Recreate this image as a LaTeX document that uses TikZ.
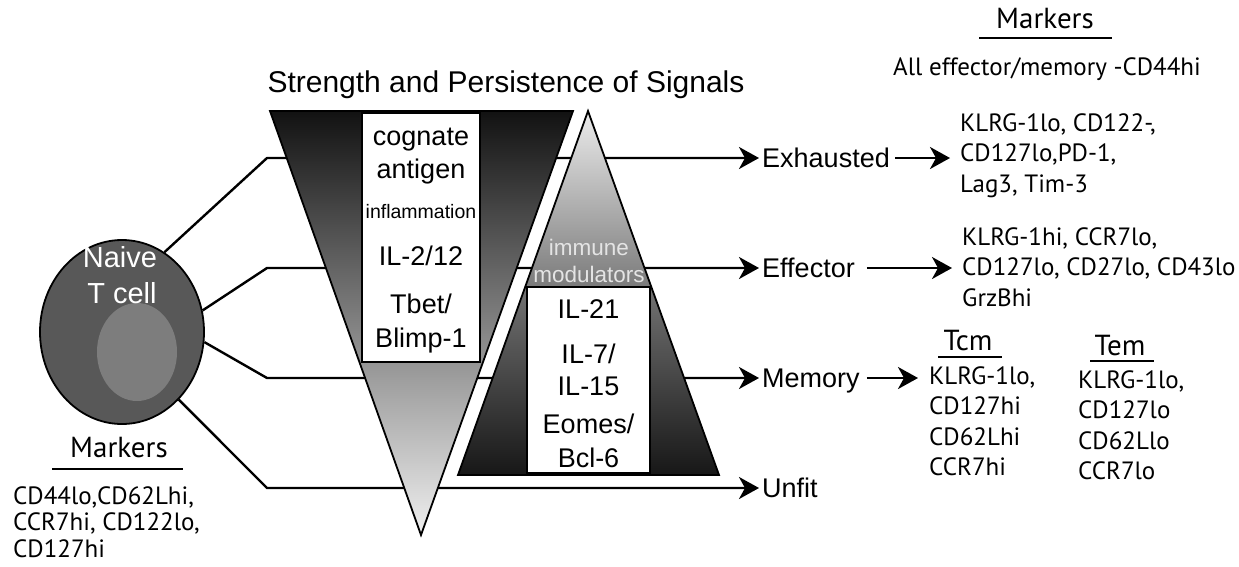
\documentclass[tikz,border=0pt]{standalone}
\usepackage{fontspec}
\setmainfont{Liberation Sans}
\newfontfamily\mkfont{PT Sans}
\usetikzlibrary{arrows.meta,shapes.geometric,calc}
\definecolor{cellgray}{HTML}{585858}
\definecolor{nucgray}{HTML}{7D7D7D}
\definecolor{modtext}{HTML}{E4E4E4}
\begin{document}
\begin{tikzpicture}[x=1pt,y=-1pt,
  conn/.style={line width=2.4pt, line join=round},
  arr/.style={conn,-{Stealth[length=20pt,width=22pt,inset=6pt]}},
  outl/.style={line width=1.8pt, line join=miter},
  uline/.style={line width=2pt},
  lab/.style={font=\fontsize{27}{30}\selectfont, inner sep=0pt, anchor=base west},
  boxtxt/.style={font=\fontsize{27}{30}\selectfont, inner sep=0pt, anchor=base},
  mk/.style={font=\mkfont\fontsize{25}{30.5}\selectfont, inner sep=0pt, anchor=base west, align=left},
  mkhead/.style={font=\mkfont\fontsize{29}{32}\selectfont, inner sep=0pt, anchor=base},
]
\useasboundingbox (0,0) rectangle (1239,566);

% ---- naive T cell ----
\node[ellipse, draw, outl, fill=cellgray, minimum width=164pt, minimum height=184pt, inner sep=0pt] (naive) at (122,332) {};
\node[ellipse, fill=nucgray, minimum width=80pt, minimum height=98pt, inner sep=0pt] (nucleus) at (137,352) {};
\node[boxtxt, white, font=\fontsize{29}{32}\selectfont] (naiveA) at (120,267) {Naive};
\node[boxtxt, white, font=\fontsize{29}{32}\selectfont] (naiveB) at (122,303) {T cell};

% ---- row corners ----
\coordinate (c1) at (267,158);
\coordinate (c2) at (267,268);
\coordinate (c3) at (267,378);
\coordinate (c4) at (267,488);

% ---- fate labels ----
\node[lab] (exh) at (762,167) {Exhausted};
\node[lab] (eff) at (762,277) {Effector};
\node[lab] (mem) at (762,387) {Memory};
\node[lab] (unf) at (762,497) {Unfit};

% ---- connectors (behind the triangles) ----
\draw[arr] (naive.62) -- (c1) -- ([xshift=-3pt]exh.west |- c1);
\draw[arr] (naive.15) -- (c2) -- ([xshift=-3pt]eff.west |- c2);
\draw[arr] (naive.-7) -- (c3) -- ([xshift=-3pt]mem.west |- c3);
\draw[arr] (naive.-50) -- (c4) -- ([xshift=-3pt]unf.west |- c4);

% ---- inverted triangle: signal strength ----
\coordinate (vL) at (270,111);
\coordinate (vR) at (573,111);
\coordinate (vB) at (421,535);
\fill[top color=black!93, bottom color=black!6] (vL) -- (vR) -- (vB) -- cycle;
\draw[outl] (vL) -- (vR) -- (vB) -- cycle;
\node[draw, line width=1.4pt, fill=white, inner sep=0pt, minimum width=118pt, minimum height=249pt] (sigbox) at (421,237.5) {};
\node[boxtxt] (tA) at (421,145) {cognate};
\node[boxtxt] (tB) at (421,178) {antigen};
\node[boxtxt, font=\fontsize{19.5}{22}\selectfont] (tC) at (421,218) {inflammation};
\node[boxtxt] (tD) at (421,265) {IL-2/12};
\node[boxtxt] (tE) at (421,313) {Tbet/};
\node[boxtxt] (tF) at (421,347) {Blimp-1};

% ---- upright triangle: immune modulators ----
\coordinate (uT) at (588,111);
\coordinate (uL) at (458,475);
\coordinate (uR) at (719,475);
\begin{scope}
  \clip (uT) -- (uR) -- (uL) -- cycle;
  \fill[top color=black!6, bottom color=black!52] (440,105) rectangle (740,287);
  \fill[top color=black!55, bottom color=black!92] (440,287) rectangle (740,480);
\end{scope}
\draw[outl] (uT) -- (uR) -- (uL) -- cycle;
\node[draw, line width=1.4pt, fill=white, inner sep=0pt, minimum width=123pt, minimum height=186pt] (modbox) at (588.5,380) {};
\node[boxtxt, modtext, font=\fontsize{22.5}{25}\selectfont] (mA) at (589,255) {immune};
\node[boxtxt, modtext, font=\fontsize{22.5}{25}\selectfont] (mB) at (589,282) {modulators};
\node[boxtxt] (uA) at (588.5,318) {IL-21};
\node[boxtxt] (uB) at (588.5,363) {IL-7/};
\node[boxtxt] (uC) at (588.5,395) {IL-15};
\node[boxtxt] (uD) at (588.5,433) {Eomes/};
\node[boxtxt] (uE) at (588.5,467) {Bcl-6};

% ---- title ----
\node[boxtxt, font=\fontsize{30}{34}\selectfont] (title) at (506,92) {Strength and Persistence of Signals};

% ---- marker lists (anchored at the baseline of their last line) ----
\node[mkhead] (mkh) at (1045,28) {Markers};
\draw[uline] (979,38) -- (1112,38);
\node[mk, anchor=base] (allm) at (1047,75) {All effector/memory -CD44hi};

\node[mk] (exhm) at (960,192) {KLRG-1lo, CD122-,\\CD127lo,PD-1,\\Lag3, Tim-3};
\node[mk] (effm) at (962,306) {KLRG-1hi, CCR7lo,\\CD127lo, CD27lo, CD43lo\\GrzBhi};

\node[mkhead] (tcmh) at (968,350) {Tcm};
\draw[uline] (938,357) -- (1002,357);
\node[mk] (tcm) at (929,475.5) {KLRG-1lo,\\CD127hi\\CD62Lhi\\CCR7hi};

\node[mkhead] (temh) at (1120,355) {Tem};
\draw[uline] (1090,361) -- (1154,361);
\node[mk] (tem) at (1078,479.5) {KLRG-1lo,\\CD127lo\\CD62Llo\\CCR7lo};

\node[mkhead] (nmkh) at (119,457) {Markers};
\draw[uline] (52,469) -- (183,469);
\node[mk, font=\mkfont\fontsize{25}{26.5}\selectfont] (nmk) at (13,557) {CD44lo,CD62Lhi,\\CCR7hi, CD122lo,\\CD127hi};

% ---- fate to marker arrows ----
\draw[arr] ([xshift=5pt]exh.east |- c1) -- ([xshift=-10pt]exhm.west |- c1);
\draw[arr] ([xshift=12pt]eff.east |- c2) -- ([xshift=-10pt]effm.west |- c2);
\draw[arr] ([xshift=7pt]mem.east |- c3) -- ([xshift=-11pt]tcm.west |- c3);
\end{tikzpicture}
\end{document}
